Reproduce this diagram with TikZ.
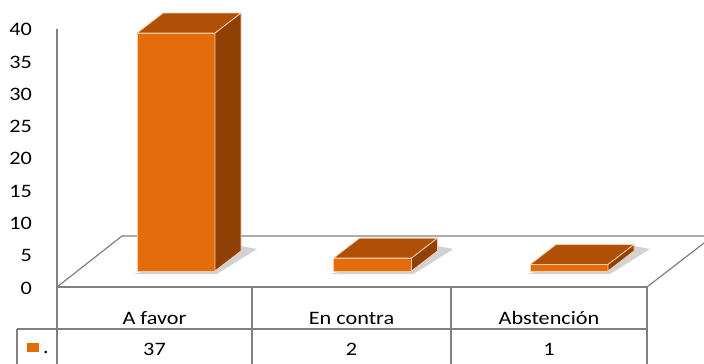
\documentclass[tikz,border=0pt]{standalone}
\usepackage{fontspec}
\setmainfont{Carlito}[FakeStretch=1.17]
\definecolor{barfront}{RGB}{228,108,10}
\definecolor{bartop}{RGB}{176,80,6}
\definecolor{barside}{RGB}{143,64,4}
\definecolor{baredge}{RGB}{250,205,175}
\definecolor{gridgray}{RGB}{128,128,128}
\tikzset{
  gridline/.style={draw=gridgray, line width=1.2pt},
  ticklabel/.style={anchor=east, inner sep=0pt, font=\fontsize{19}{19}\selectfont},
  celltext/.style={inner sep=0pt, font=\fontsize{19}{19}\selectfont},
  faceline/.style={draw=baredge, line width=0.8pt, line join=round}
}
% one 3d bar: left x, value, name
\newcommand{\votebar}[3]{%
  \pgfmathsetmacro{\bartopy}{271-6.43*#2}
  \fill[gray!35] (#1-3,274) -- (#1+80,274) -- (#1+120,249) -- (#1+104,246) -- cycle;
  \filldraw[faceline, fill=barfront] (#1,271) rectangle (#1+78,\bartopy);
  \filldraw[faceline, fill=bartop] (#1,\bartopy) -- (#1+26,\bartopy-20) -- (#1+104,\bartopy-20) -- (#1+78,\bartopy) -- cycle;
  \filldraw[faceline, fill=barside] (#1+78,271) -- (#1+104,251) -- (#1+104,\bartopy-20) -- (#1+78,\bartopy) -- cycle;
  \coordinate (#3) at (#1+39,271);
}

\begin{document}
\begin{tikzpicture}[x=1pt,y=-1pt]
  \useasboundingbox (0,0) rectangle (704,364);

  % floor corners
  \coordinate (floorFL) at (57,287);
  \coordinate (floorBL) at (122,236);
  \coordinate (floorFR) at (647,287);
  \coordinate (floorBR) at (704,243);

  % floor and axis
  \draw[gridline] (57,29) -- (57,364);
  \draw[gridline] (floorFL) -- (floorBL) -- (704,236);
  \draw[gridline] (floorFR) -- (floorBR);
  \draw[gridline] (floorFL) -- (floorFR);

  % tick labels
  \foreach \v [count=\i from 0] in {0,5,...,40}
    \node[ticklabel] (tick\v) at (32,288-32.3*\i) {\v};

  % bars
  \votebar{137}{37}{barFavor}
  \votebar{333.5}{2}{barContra}
  \votebar{530}{1}{barAbst}

  % data table
  \draw[gridline] (17,329) -- (floorFR |- 0,329);
  \draw[gridline] (17,329) -- (17,364);
  \draw[gridline] (252,287) -- (252,364);
  \draw[gridline] (451,287) -- (451,364);
  \draw[gridline] (floorFR) -- (647,364);

  \node[celltext] (catFavor) at (154.5,318) {A favor};
  \node[celltext] (catContra) at (351.5,318) {En contra};
  \node[celltext] (catAbst) at (549,318) {Abstención};

  \node[celltext] (valFavor) at (154.5,349) {37};
  \node[celltext] (valContra) at (351.5,349) {2};
  \node[celltext] (valAbst) at (549,349) {1};

  % legend key
  \fill[barfront] (27,343) rectangle (39,352);
  \node[celltext, anchor=base west] (keyDot) at (43,353) {.};
\end{tikzpicture}
\end{document}
